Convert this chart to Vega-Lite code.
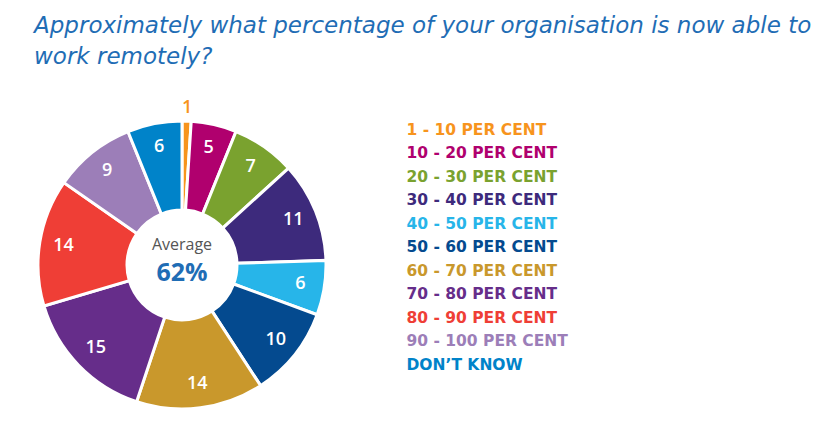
{
  "$schema": "https://vega.github.io/schema/vega-lite/v6.json",
  "autosize": "none",
  "width": 288,
  "height": 288,
  "padding": {"left": 38, "top": 121, "right": 513, "bottom": 21},
  "background": "white",
  "config": {"view": {"stroke": null}},
  "title": {
    "text": ["Approximately what percentage of your organisation is now able to", "work remotely?"],
    "anchor": "start",
    "frame": "group",
    "dx": -4,
    "offset": 30,
    "font": "DejaVu Sans",
    "fontStyle": "italic",
    "fontWeight": "normal",
    "fontSize": 23,
    "lineHeight": 31,
    "color": "#1f6db5"
  },
  "data": {
    "values": [
      {"i": 1, "cat": "1 - 10 PER CENT", "value": 1},
      {"i": 2, "cat": "10 - 20 PER CENT", "value": 5},
      {"i": 3, "cat": "20 - 30 PER CENT", "value": 7},
      {"i": 4, "cat": "30 - 40 PER CENT", "value": 11},
      {"i": 5, "cat": "40 - 50 PER CENT", "value": 6},
      {"i": 6, "cat": "50 - 60 PER CENT", "value": 10},
      {"i": 7, "cat": "60 - 70 PER CENT", "value": 14},
      {"i": 8, "cat": "70 - 80 PER CENT", "value": 15},
      {"i": 9, "cat": "80 - 90 PER CENT", "value": 14},
      {"i": 10, "cat": "90 - 100 PER CENT", "value": 9},
      {"i": 11, "cat": "DON’T KNOW", "value": 6}
    ]
  },
  "encoding": {
    "theta": {"field": "value", "type": "quantitative", "stack": true},
    "order": {"field": "i", "type": "quantitative"}
  },
  "layer": [
    {
      "mark": {"type": "arc", "innerRadius": 55, "outerRadius": 144, "stroke": "white", "strokeWidth": 3},
      "encoding": {
        "color": {
          "field": "cat",
          "type": "nominal",
          "sort": null,
          "scale": {
            "domain": ["1 - 10 PER CENT", "10 - 20 PER CENT", "20 - 30 PER CENT", "30 - 40 PER CENT", "40 - 50 PER CENT", "50 - 60 PER CENT", "60 - 70 PER CENT", "70 - 80 PER CENT", "80 - 90 PER CENT", "90 - 100 PER CENT", "DON’T KNOW"],
            "range": ["#f7941d", "#b0006e", "#7aa22f", "#3d2a7c", "#27b5e9", "#044a8f", "#c9982c", "#662d8a", "#ef3e36", "#9c7eb8", "#0083c9"]
          },
          "legend": {
            "orient": "none",
            "legendX": 353,
            "legendY": 1,
            "title": null,
            "symbolSize": 0,
            "symbolStrokeWidth": 0,
            "symbolOpacity": 0,
            "labelOffset": 0,
            "labelFont": "DejaVu Sans",
            "labelFontWeight": "bold",
            "labelFontSize": 15.5,
            "labelLimit": 300,
            "rowPadding": 6.5,
            "labelColor": {"expr": "scale('color', datum.value)"}
          }
        }
      }
    },
    {
      "mark": {"type": "text", "radius": 120, "font": "Open Sans", "fontSize": 18, "fontWeight": 600, "color": "white"},
      "encoding": {
        "text": {"field": "value", "type": "quantitative"},
        "opacity": {"condition": {"test": "datum.value < 2", "value": 0}, "value": 1}
      }
    },
    {
      "mark": {"type": "text", "radius": 157, "font": "Open Sans", "fontSize": 18, "fontWeight": 600, "color": "#f7941d"},
      "encoding": {
        "text": {"field": "value", "type": "quantitative"},
        "opacity": {"condition": {"test": "datum.value < 2", "value": 1}, "value": 0}
      }
    },
    {
      "data": {"values": [{"t": "Average"}]},
      "mark": {"type": "text", "font": "Open Sans", "fontSize": 16, "color": "#555555", "dy": -20},
      "encoding": {"text": {"field": "t"}, "theta": null, "order": null}
    },
    {
      "data": {"values": [{"t": "62%"}]},
      "mark": {"type": "text", "font": "Open Sans", "fontSize": 25, "fontWeight": "bold", "color": "#1f6db5", "dy": 8},
      "encoding": {"text": {"field": "t"}, "theta": null, "order": null}
    }
  ]
}
